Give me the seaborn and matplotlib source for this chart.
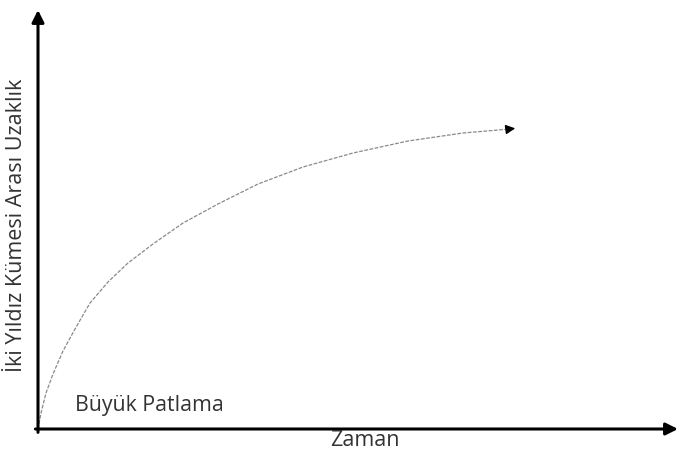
import matplotlib
matplotlib.use('Agg')
import matplotlib.pyplot as plt
import seaborn as sns
import pandas as pd

# ─── Data (arbitrary units) ───
zaman = [0, 3, 8, 15, 25, 37, 52, 70, 90, 115, 145, 180, 220, 265, 315, 370, 425, 472]
uzaklik = [0, 16, 36, 55, 78, 100, 126, 147, 166, 185, 206, 225, 245, 262, 276, 288, 296, 300]

x_label = 'Zaman'
y_label = 'İki Yıldız Kümesi Arası Uzaklık'
origin_label = 'Büyük Patlama'

sns.set_theme(style='white')
plt.rcParams['font.family'] = ['Open Sans', 'DejaVu Sans']

W, H = 678, 462
fig = plt.figure(figsize=(W / 100, H / 100), dpi=100)
ax = fig.add_axes([38 / W, 33 / H, (W - 38) / W, (429 - 10) / H])
ax.set_xlim(0, 640)
ax.set_ylim(0, 419)

df = pd.DataFrame({'zaman': zaman, 'uzaklik': uzaklik})
sns.lineplot(data=df, x='zaman', y='uzaklik', ax=ax, color='#8a8a8a',
             linewidth=0.9, linestyle=(0, (3, 1.2)), sort=False)

# arrowhead at the end of the curve
ax.annotate('', xy=(zaman[-1] + 8, uzaklik[-1] + 1), xytext=(zaman[-1], uzaklik[-1]),
            arrowprops=dict(arrowstyle='-|>', color='black', lw=1, mutation_scale=14))

# axes drawn as arrows
for spine in ax.spines.values():
    spine.set_visible(False)
ax.set_xticks([])
ax.set_yticks([])
ax.set_xlabel('')
ax.set_ylabel('')
ax.annotate('', xy=(0, 1.0), xytext=(0, -0.008), xycoords='axes fraction',
            arrowprops=dict(arrowstyle='-|>', color='black', lw=2.2, mutation_scale=18,
                            shrinkA=0, shrinkB=0), annotation_clip=False)
ax.annotate('', xy=(1.0, 0), xytext=(-0.004, 0), xycoords='axes fraction',
            arrowprops=dict(arrowstyle='-|>', color='black', lw=2.2, mutation_scale=18,
                            shrinkA=0, shrinkB=0), annotation_clip=False)

fig.text(365 / W, 1 - 441 / H, x_label, ha='center', va='center',
         fontsize=15.5, color='#333333')
fig.text(17 / W, 1 - 225 / H, y_label, ha='center', va='center',
         rotation=90, fontsize=15.5, color='#333333')
fig.text(75 / W, 1 - 405 / H, origin_label, ha='left', va='center',
         fontsize=15.3, color='#333333')

plt.savefig('out.png', dpi=100)
plt.close()
